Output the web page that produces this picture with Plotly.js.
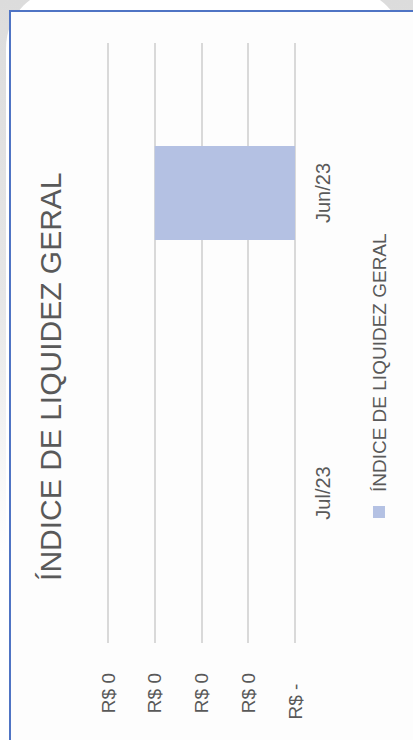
<!DOCTYPE html>
<html>
<head>
<meta charset="utf-8">
<script src="https://cdn.plot.ly/plotly-3.0.1.min.js"></script>
<style>
  html, body { margin:0; padding:0; width:413px; height:740px; overflow:hidden; }
  body { background: linear-gradient(to bottom, #dcdcdc 0%, #e6e6e6 40%, #ffffff 75%); }
  #screen { position:absolute; left:6px; top:-12px; width:398px; height:800px; background:#ffffff; border-radius:60px; }
  #frame { position:absolute; left:9px; top:10px; width:420px; height:760px; border-left:2px solid #4f74c4; border-top:2px solid #4f74c4; background:#fdfdfd; }
  #chart { position:absolute; left:0; top:0; width:740px; height:413px; transform-origin:0 0; transform:translate(0px, 740px) rotate(-90deg); }
</style>
</head>
<body>
<div id="screen"></div>
<div id="frame"></div>
<div id="chart"></div>
<script>
// Data
const categories = ['Jul/23', 'Jun/23'];
const values = [0, 0.3];
const seriesName = 'ÍNDICE DE LIQUIDEZ GERAL';
const tickValues = [0, 0.1, 0.2, 0.3, 0.4];
const tickLabels = ['R$ -\u00a0\u00a0', 'R$ 0', 'R$ 0', 'R$ 0', 'R$ 0'];
const chartTitle = 'ÍNDICE DE LIQUIDEZ GERAL';

const FONT = '"Liberation Sans", Arial, sans-serif';
const TXT = '#595959';

const trace = {
  type: 'bar',
  x: categories,
  y: values,
  name: seriesName,
  marker: { color: '#b4c1e3' },
  showlegend: true,
  hoverinfo: 'skip'
};

const layout = {
  width: 740,
  height: 413,
  margin: { l: 97, r: 43, t: 99, b: 118, pad: 0 },
  paper_bgcolor: 'rgba(0,0,0,0)',
  plot_bgcolor: 'rgba(0,0,0,0)',
  font: { family: FONT, color: TXT },
  bargap: 0.687,
  title: {
    text: chartTitle,
    font: { size: 30, color: TXT, family: FONT },
    xref: 'container', x: 0.491, xanchor: 'center',
    yref: 'container', y: 0.878, yanchor: 'middle'
  },
  xaxis: {
    type: 'category',
    categoryorder: 'array',
    categoryarray: categories,
    showgrid: false,
    showline: false,
    zeroline: false,
    ticks: '',
    tickfont: { size: 20, color: TXT, family: FONT },
    ticklabelstandoff: 14
  },
  yaxis: {
    range: [0, 0.41925],
    tickmode: 'array',
    tickvals: tickValues,
    ticktext: tickLabels,
    showgrid: true,
    gridcolor: '#d9d9d9',
    gridwidth: 2,
    zeroline: true,
    zerolinecolor: '#d9d9d9',
    zerolinewidth: 2,
    showline: false,
    ticks: '',
    tickfont: { size: 19, color: TXT, family: FONT },
    ticklabelstandoff: 29
  },
  legend: {
    orientation: 'h',
    xref: 'container', x: 0.281, xanchor: 'left',
    yref: 'container', y: 0.082, yanchor: 'middle',
    font: { size: 19, color: TXT, family: FONT },
    bgcolor: 'rgba(0,0,0,0)'
  }
};

Plotly.newPlot('chart', [trace], layout, { staticPlot: true, displayModeBar: false });
</script>
</body>
</html>
